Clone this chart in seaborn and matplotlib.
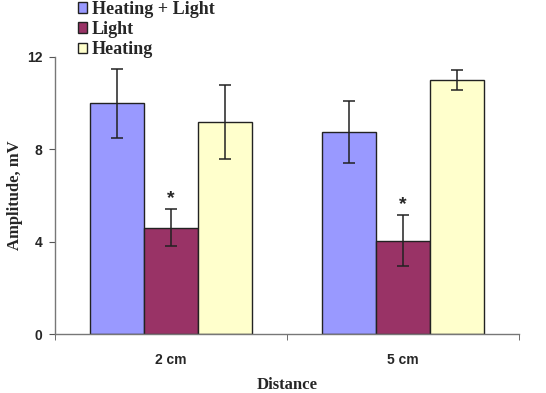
import matplotlib
matplotlib.use("Agg")
import matplotlib.pyplot as plt
import seaborn as sns
import pandas as pd
import numpy as np
from matplotlib.patches import Patch

distances = ["2 cm", "5 cm"]
conditions = ["Heating + Light", "Light", "Heating"]
means = {
    "Heating + Light": [10.0, 8.75],
    "Light": [4.6, 4.05],
    "Heating": [9.2, 11.0],
}
errors = {
    "Heating + Light": [1.5, 1.35],
    "Light": [0.8, 1.1],
    "Heating": [1.6, 0.45],
}
colors = ["#9999FF", "#993366", "#FFFFCC"]
yticks = [0, 4, 8, 12]

rows = []
for c in conditions:
    for i, d in enumerate(distances):
        rows.append({"Distance": d, "Condition": c, "Amplitude": means[c][i], "Err": errors[c][i]})
df = pd.DataFrame(rows)

sns.set_style("white")
fig = plt.figure(figsize=(5.46, 3.93), dpi=100)
ax = fig.add_axes([0.1007, 0.150, 0.8498, 0.705])

sns.barplot(data=df, x="Distance", y="Amplitude", hue="Condition", order=distances,
            hue_order=conditions, palette=colors, saturation=1, width=0.70, errorbar=None,
            edgecolor="#222222", linewidth=1.0, ax=ax, legend=False)

# error bars & asterisks
for j, c in enumerate(conditions):
    cont = ax.containers[j]
    for i, bar in enumerate(cont):
        x = bar.get_x() + bar.get_width() / 2
        h = bar.get_height()
        e = errors[c][i]
        ax.errorbar(x, h, yerr=e, fmt="none", ecolor="#222222", elinewidth=1.1,
                    capsize=4, capthick=1.1, zorder=5)
        if c == "Light":
            ax.text(x, h + e + 0.1, "*", ha="center", va="bottom", fontsize=14,
                    fontweight="bold", family="Liberation Sans")

ax.set_ylim(0, 12)
ax.set_xlim(-0.5, 1.5)
ax.set_yticks(yticks)
ax.set_yticklabels([str(t) for t in yticks], fontsize=10, fontweight="bold", family="Liberation Sans")
ax.set_xticks([0, 1])
ax.set_xticklabels(distances, fontsize=10, fontweight="bold", family="Liberation Sans")
ax.tick_params(axis="x", which="major", length=0, pad=14)
ax.set_xticks([-0.5, 0.5, 1.5], minor=True)
ax.tick_params(axis="x", which="minor", length=4, direction="out", color="#555555", bottom=True)
ax.tick_params(axis="y", which="major", length=4, direction="out", color="#555555", left=True, pad=5)

for s in ["top", "right"]:
    ax.spines[s].set_visible(False)
for s in ["left", "bottom"]:
    ax.spines[s].set_color("#777777")
    ax.spines[s].set_linewidth(1.0)

ax.set_ylabel("Amplitude, mV", fontsize=12, fontweight="bold", family="Liberation Serif", labelpad=3)
ax.set_xlabel("Distance", fontsize=12, fontweight="bold", family="Liberation Serif", labelpad=7)

handles = [Patch(facecolor=col, edgecolor="#222222", label=lab) for col, lab in zip(colors, conditions)]
fig.legend(handles=handles, loc="upper left", bbox_to_anchor=(0.142, 0.998), frameon=False,
           prop={"family": "Liberation Serif", "weight": "bold", "size": 13},
           handlelength=0.5, handleheight=0.5, handletextpad=0.3, labelspacing=0.18,
           borderaxespad=0, borderpad=0)

fig.savefig("out.png", dpi=100)
